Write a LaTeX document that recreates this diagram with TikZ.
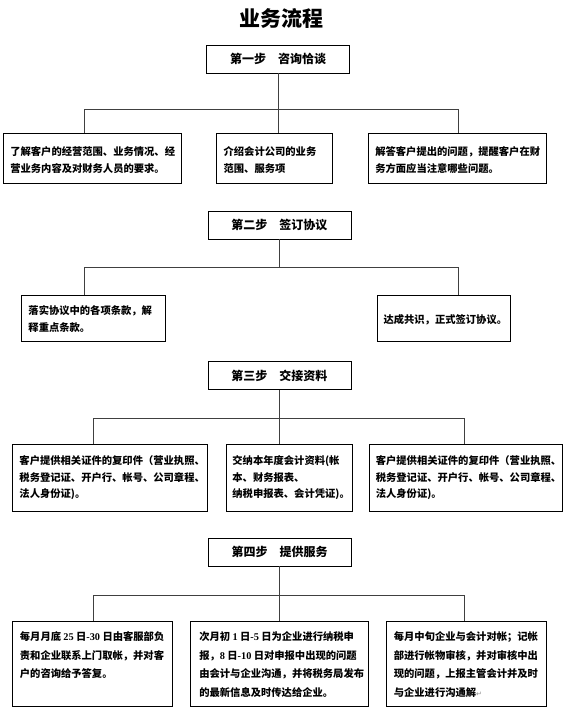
\documentclass[tikz,border=0pt]{standalone}
\usepackage{fontspec}
\setmainfont{Noto Sans CJK SC}
\newfontfamily\latinfont{Liberation Serif}
\newfontfamily\symfont{DejaVu Sans}
\newcommand{\nm}[1]{{\latinfont\bfseries #1}}
\begin{document}
\begin{tikzpicture}[x=1pt,y=-1pt,
  box/.style={draw=black, line width=0.8pt, inner sep=0pt},
  stepbox/.style={box, minimum width=143pt, minimum height=28pt,
    font=\fontsize{12}{14}\selectfont\bfseries},
  txt/.style={align=left, inner sep=0pt, font=\fontsize{10.3}{16.7}\selectfont\bfseries},
  txtb/.style={align=left, inner sep=0pt, font=\fontsize{10.3}{18.5}\selectfont\bfseries},
  link/.style={draw=black!75, line width=0.7pt}]
\useasboundingbox (0,0) rectangle (566,710);

% title
\node[font=\fontsize{21}{24}\selectfont\bfseries] (title) at (281,18.5) {业务流程};

% ---------- step 1 ----------
\node[stepbox] (s1) at (278,59) {第一步\hspace{1em}咨询恰谈};
\node[box, minimum width=178pt, minimum height=50pt] (b11) at (92.5,158) {};
\node[box, minimum width=116pt, minimum height=50pt] (b12) at (274.8,158) {};
\node[box, minimum width=178pt, minimum height=50pt] (b13) at (457.5,158) {};
\node[txt, anchor=west] (t11) at ([xshift=7pt,yshift=-2pt]b11.west)
  {了解客户的经营范围、业务情况、经\\营业务内容及对财务人员的要求。};
\node[txt, anchor=west] (t12) at ([xshift=7pt,yshift=-2pt]b12.west)
  {介绍会计公司的业务\\范围、服务项};
\node[txt, anchor=west] (t13) at ([xshift=7pt,yshift=-2pt]b13.west)
  {解答客户提出的问题，提醒客户在财\\务方面应当注意哪些问题。};
\coordinate (h1l) at (84,109);
\coordinate (h1r) at (458,109);
\draw[link] (s1.south) -- (s1.south |- h1l);
\draw[link] (h1l) -- (h1r);
\draw[link] (h1l) -- (h1l |- b11.north);
\draw[link] (s1.south |- h1l) -- (s1.south |- b12.north);
\draw[link] (h1r) -- (h1r |- b13.north);

% ---------- step 2 ----------
\node[stepbox] (s2) at (279.4,225) {第二步\hspace{1em}签订协议};
\node[box, minimum width=143.5pt, minimum height=46pt] (b21) at (93.4,318) {};
\node[box, minimum width=132.6pt, minimum height=46pt] (b22) at (444,318) {};
\node[txt, anchor=west] (t21) at ([xshift=7pt,yshift=-1pt]b21.west)
  {落实协议中的各项条款，解\\释重点条款。};
\node[txt, anchor=west] (t22) at ([xshift=6pt,yshift=-2pt]b22.west)
  {达成共识，正式签订协议。};
\coordinate (h2l) at (84,267);
\coordinate (h2r) at (458,267);
\draw[link] (s2.south) -- (s2.south |- h2l);
\draw[link] (h2l) -- (h2r);
\draw[link] (h2l) -- (h2l |- b21.north);
\draw[link] (h2r) -- (h2r |- b22.north);

% ---------- step 3 ----------
\node[stepbox] (s3) at (279.4,375.5) {第三步\hspace{1em}交接资料};
\node[box, minimum width=195pt, minimum height=66.7pt] (b31) at (110.2,477.7) {};
\node[box, minimum width=125.8pt, minimum height=66.7pt] (b32) at (289.5,477.7) {};
\node[box, minimum width=193pt, minimum height=66.7pt] (b33) at (465.5,477.7) {};
\node[txt, anchor=west] (t31) at ([xshift=7pt]b31.west)
  {客户提供相关证件的复印件（营业执照、\\税务登记证、开户行、帐号、公司章程、\\法人身份证)。};
\node[txt, anchor=west] (t32) at ([xshift=6pt]b32.west)
  {交纳本年度会计资料(帐\\本、财务报表、\\纳税申报表、会计凭证)。};
\node[txt, anchor=west] (t33) at ([xshift=7pt]b33.west)
  {客户提供相关证件的复印件（营业执照、\\税务登记证、开户行、帐号、公司章程、\\法人身份证)。};
\coordinate (h3l) at (93.2,418);
\coordinate (h3r) at (464.4,418);
\draw[link] (s3.south) -- (s3.south |- h3l);
\draw[link] (h3l) -- (h3r);
\draw[link] (h3l) -- (h3l |- b31.north);
\draw[link] (s3.south |- h3l) -- (s3.south |- b32.north);
\draw[link] (h3r) -- (h3r |- b33.north);

% ---------- step 4 ----------
\node[stepbox] (s4) at (279.5,552) {第四步\hspace{1em}提供服务};
\node[box, minimum width=159.8pt, minimum height=84.3pt] (b41) at (92.5,663.8) {};
\node[box, minimum width=178pt, minimum height=84.3pt] (b42) at (279.5,663.8) {};
\node[box, minimum width=160.4pt, minimum height=84.3pt] (b43) at (466.2,663.8) {};
\node[txtb, anchor=north west] (t41) at ([xshift=7.5pt,yshift=-10.5pt]b41.north west)
  {每月月底 \nm{25} 日\nm{-30} 日由客服部负\\责和企业联系上门取帐，并对客\\户的咨询给予答复。};
\node[txtb, anchor=north west] (t42) at ([xshift=9pt,yshift=-10.5pt]b42.north west)
  {次月初 \nm{1} 日\nm{-5} 日为企业进行纳税申\\报，\nm{8} 日\nm{-10} 日对申报中出现的问题\\由会计与企业沟通，并将税务局发布\\的最新信息及时传达给企业。};
\node[txtb, anchor=north west] (t43) at ([xshift=8pt,yshift=-10.5pt]b43.north west)
  {每月中旬企业与会计对帐；记帐\\部进行帐物审核，并对审核中出\\现的问题，上报主管会计并及时\\与企业进行沟通解{\symfont\mdseries\fontsize{7}{8}\selectfont\color{black!45}↵}};
\coordinate (h4l) at (93.2,595);
\coordinate (h4r) at (464.4,595);
\draw[link] (s4.south) -- (s4.south |- h4l);
\draw[link] (h4l) -- (h4r);
\draw[link] (h4l) -- (h4l |- b41.north);
\draw[link] (s4.south |- h4l) -- (s4.south |- b42.north);
\draw[link] (h4r) -- (h4r |- b43.north);
\end{tikzpicture}
\end{document}
